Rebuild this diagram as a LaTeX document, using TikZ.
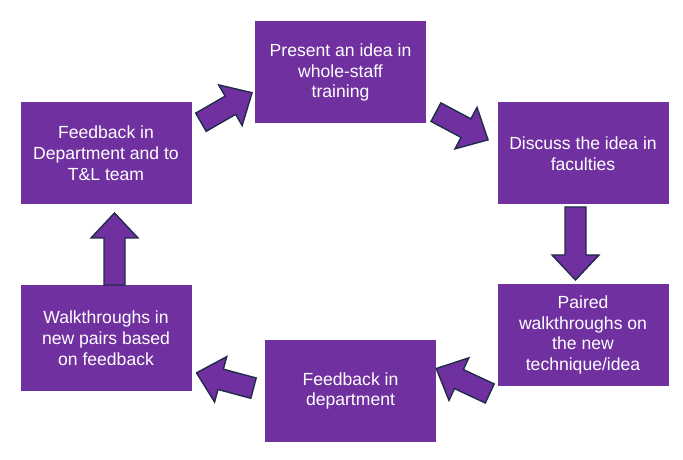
\documentclass[tikz,border=0pt]{standalone}
\usepackage{fontspec}
\setmainfont{Liberation Sans}
\definecolor{stagefill}{HTML}{7030A0}
\definecolor{arrowline}{HTML}{1F2D4A}

\begin{document}
\begin{tikzpicture}[font=\fontsize{10}{11.8}\selectfont,
    stage/.style={fill=stagefill, text=white, align=center,
                  minimum width=3.42cm, minimum height=2.04cm, inner sep=2pt},
    pics/blockarrow/.style={code={
      \draw[fill=stagefill, draw=arrowline, line width=0.8pt, line join=miter]
        (-#1/2,-0.21) -- (#1/2-0.5,-0.21) -- (#1/2-0.5,-0.47) -- (#1/2,0)
        -- (#1/2-0.5,0.47) -- (#1/2-0.5,0.21) -- (-#1/2,0.21) -- cycle;
    }}]

    \useasboundingbox (0,0) rectangle (13.66,9.18);

    \node[stage] (train)    at (6.81,7.73)  {Present an idea in\\whole-staff\\training};
    \node[stage] (discuss)  at (11.66,6.11) {Discuss the idea in\\faculties};
    \node[stage] (paired)   at (11.66,2.48) {Paired\\walkthroughs on\\the new\\technique/idea};
    \node[stage] (deptfb)   at (7.01,1.36)  {Feedback in\\department};
    \node[stage, minimum height=2.12cm] (newpairs) at (2.12,2.42) {Walkthroughs in\\new pairs based\\on feedback};
    \node[stage] (feedback) at (2.12,6.12)  {Feedback in\\Department and to\\T\&L team};

    \pic[rotate=30]  at (4.53,7.03)  {blockarrow=1.18};
    \pic[rotate=-28] at (9.24,6.66)  {blockarrow=1.18};
    \pic[rotate=-90] at (11.51,4.31) {blockarrow=1.46};
    \pic[rotate=155] at (9.26,1.56)  {blockarrow=1.18};
    \pic[rotate=165] at (4.50,1.57)  {blockarrow=1.18};
    \pic[rotate=90]  at (2.29,4.20)  {blockarrow=1.44};
\end{tikzpicture}
\end{document}
